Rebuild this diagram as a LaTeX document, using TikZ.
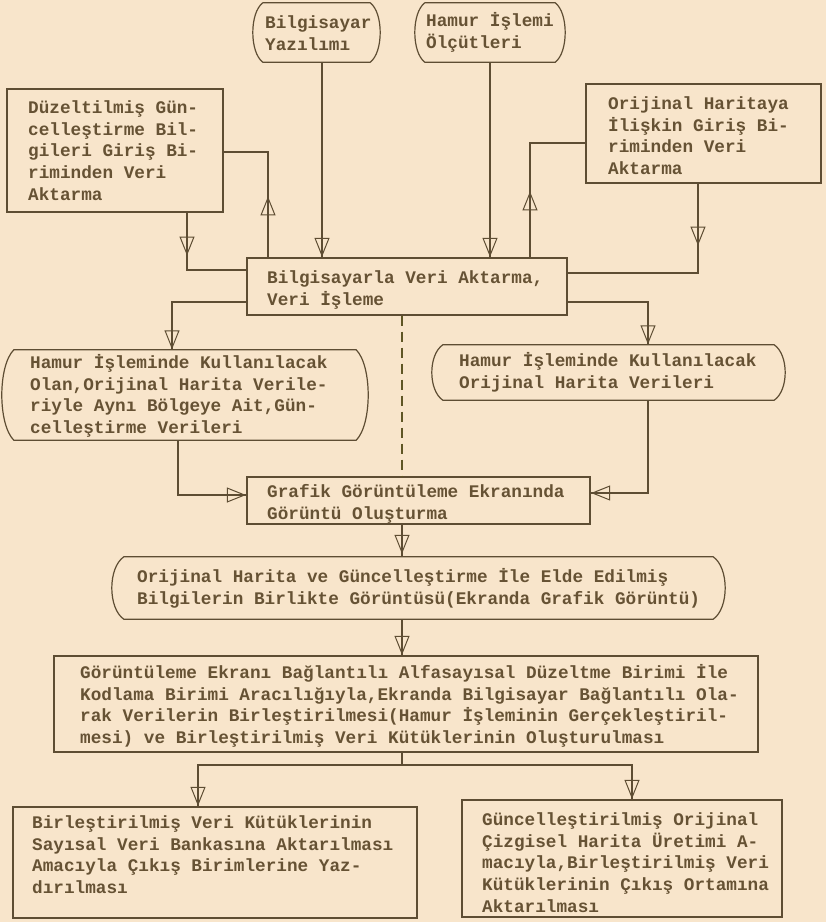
\documentclass[tikz,border=0pt]{standalone}
\usepackage{fontspec}
\setmonofont{Liberation Mono}
\usetikzlibrary{arrows.meta,decorations.markings}
\definecolor{paper}{HTML}{F8E5CB}
\definecolor{ink}{HTML}{5E4D33}
\definecolor{typeink}{HTML}{665234}
\definecolor{dashink}{HTML}{5F5625}

% box from its corner coordinates: style, name, x1, y1, x2, y2 (y grows downwards)
\newcommand\mkbox[6]{%
  \node[#1, minimum width={#5-#3}, minimum height={#6-#4}] (#2) at ({(#3+#5)/2},{-(#4+#6)/2}) {};}
% outline with outward-bowed sides: node name, bulge, vertical pull of the curve
\newcommand\parenoutline[3]{%
  \draw[ln] ([xshift=#2]#1.north west) -- ([xshift=-#2]#1.north east)
    .. controls ([xshift={#2/3},yshift=-#3]#1.north east) and ([xshift={#2/3},yshift=#3]#1.south east) .. ([xshift=-#2]#1.south east)
    -- ([xshift=#2]#1.south west)
    .. controls ([xshift={-#2/3},yshift=#3]#1.south west) and ([xshift={-#2/3},yshift=-#3]#1.north west) .. cycle;}
% text block placed by the baseline of its first line: name, x, baseline y, lines
\newcommand\typed[4]{\node[txt] (#1) at (#2,{-(#3)+16}) {\rule{0pt}{16pt}#4};}

\begin{document}
\begin{tikzpicture}[x=1pt,y=1pt,
  ln/.style={draw=ink, line width=1.2pt},
  box/.style={rectangle, inner sep=0pt, ln},
  pbox/.style={rectangle, inner sep=0pt, draw=none},
  txt/.style={font=\ttfamily\bfseries\fontsize{17.7}{21.8}\selectfont, text=typeink,
              align=left, inner sep=0pt, anchor=north west},
  flowtip/.style={postaction={decorate}, decoration={markings,
      mark=at position #1 with {\arrow{Triangle[open, length=19pt, width=15pt, line width=1pt]}}}},
  dashline/.style={draw=dashink, line width=1.3pt, dash pattern=on 10pt off 6pt},
]
\fill[paper] (0,0) rectangle (826,-922);
\useasboundingbox (0,0) rectangle (826,-922);

% ---- boxes ----
\mkbox{pbox}{b1}{253}{3}{380}{62}
\mkbox{pbox}{b2}{415}{3}{565}{62}
\mkbox{box}{b3}{7}{89}{223}{212}
\mkbox{box}{b4}{586}{84}{821}{183}
\mkbox{box}{b5}{247}{258}{567}{315}
\mkbox{pbox}{b6}{2}{350}{368}{440}
\mkbox{pbox}{b7}{432}{345}{785}{400}
\mkbox{box}{b8}{247}{477}{590}{524}
\mkbox{pbox}{b9}{112}{557}{725}{619}
\mkbox{box}{b10}{54}{656}{758}{752}
\mkbox{box}{b11}{13}{807}{417}{918}
\mkbox{box}{b12}{462}{800}{782}{917}

\parenoutline{b1}{10}{10}
\parenoutline{b2}{10}{10}
\parenoutline{b6}{12}{16}
\parenoutline{b7}{11}{10}
\parenoutline{b9}{12}{11}

% ---- texts ----
\typed{t1}{265}{28}{Bilgisayar\\Yazılımı}
\typed{t2}{426}{26}{Hamur İşlemi\\Ölçütleri}
\typed{t3}{28}{113}{Düzeltilmiş Gün-\\celleştirme Bil-\\gileri Giriş Bi-\\riminden Veri\\Aktarma}
\typed{t4}{608}{109}{Orijinal Haritaya\\İlişkin Giriş Bi-\\riminden Veri\\Aktarma}
\typed{t5}{267}{283}{Bilgisayarla Veri Aktarma,\\Veri İşleme}
\typed{t6}{30}{368}{Hamur İşleminde Kullanılacak\\Olan,Orijinal Harita Verile-\\riyle Aynı Bölgeye Ait,Gün-\\celleştirme Verileri}
\typed{t7}{459}{366}{Hamur İşleminde Kullanılacak\\Orijinal Harita Verileri}
\typed{t8}{267}{497}{Grafik Görüntüleme Ekranında\\Görüntü Oluşturma}
\typed{t9}{137}{582}{Orijinal Harita ve Güncelleştirme İle Elde Edilmiş\\Bilgilerin Birlikte Görüntüsü(Ekranda Grafik Görüntü)}
\typed{t10}{80}{678}{Görüntüleme Ekranı Bağlantılı Alfasayısal Düzeltme Birimi İle\\Kodlama Birimi Aracılığıyla,Ekranda Bilgisayar Bağlantılı Ola-\\rak Verilerin Birleştirilmesi(Hamur İşleminin Gerçekleştiril-\\mesi) ve Birleştirilmiş Veri Kütüklerinin Oluşturulması}
\typed{t11}{32}{828}{Birleştirilmiş Veri Kütüklerinin\\Sayısal Veri Bankasına Aktarılması\\Amacıyla Çıkış Birimlerine Yaz-\\dırılması}
\typed{t12}{482}{825}{Güncelleştirilmiş Orijinal\\Çizgisel Harita Üretimi A-\\macıyla,Birleştirilmiş Veri\\Kütüklerinin Çıkış Ortamına\\Aktarılması}

% ---- connector corners and columns ----
\coordinate (k1) at (322,0);
\coordinate (k2) at (490,0);
\coordinate (k3) at (187,-270);
\coordinate (k4) at (268,-152);
\coordinate (k5) at (530,-143);
\coordinate (k6) at (698,-273);
\coordinate (k7) at (172,-302);
\coordinate (k8) at (648,-302);
\coordinate (k9) at (402,0);
\coordinate (k10) at (178,-495);
\coordinate (k11) at (648,-493);
\coordinate (k14) at (402,-765);
\coordinate (k14l) at (198,-765);
\coordinate (k14r) at (632,-765);

% ---- connectors ----
\draw[ln, flowtip=-0.5pt] (b1.south -| k1) -- (b5.north -| k1);
\draw[ln, flowtip=-0.5pt] (b2.south -| k2) -- (b5.north -| k2);
\draw[ln, flowtip=43pt] (b3.south -| k3) -- (k3) -- (b5.west |- k3);
\draw[ln, flowtip=61pt] (b5.north -| k4) -- (k4) -- (b3.east |- k4);
\draw[ln, flowtip=66pt] (b5.north -| k5) -- (k5) -- (b4.west |- k5);
\draw[ln, flowtip=62pt] (b4.south -| k6) -- (k6) -- (b5.east |- k6);
\draw[ln, flowtip=-0.5pt] (b5.west |- k7) -- (k7) -- (b6.north -| k7);
\draw[ln, flowtip=-0.5pt] (b5.east |- k8) -- (k8) -- (b7.north -| k8);
\draw[dashline] (b5.south -| k9) -- (b8.north -| k9);
\draw[ln, flowtip=-0.5pt] (b6.south -| k10) -- (k10) -- (b8.west |- k10);
\draw[ln, flowtip=-0.5pt] (b7.south -| k11) -- (k11) -- (b8.east |- k11);
\draw[ln, flowtip=-3pt] (b8.south -| k9) -- (b9.north -| k9);
\draw[ln, flowtip=-0.5pt] (b9.south -| k9) -- (b10.north -| k9);
\draw[ln] (b10.south -| k9) -- (k14);
\draw[ln, flowtip=-0.5pt] (k14) -- (k14l) -- (b11.north -| k14l);
\draw[ln, flowtip=-0.5pt] (k14) -- (k14r) -- (b12.north -| k14r);
\end{tikzpicture}
\end{document}
